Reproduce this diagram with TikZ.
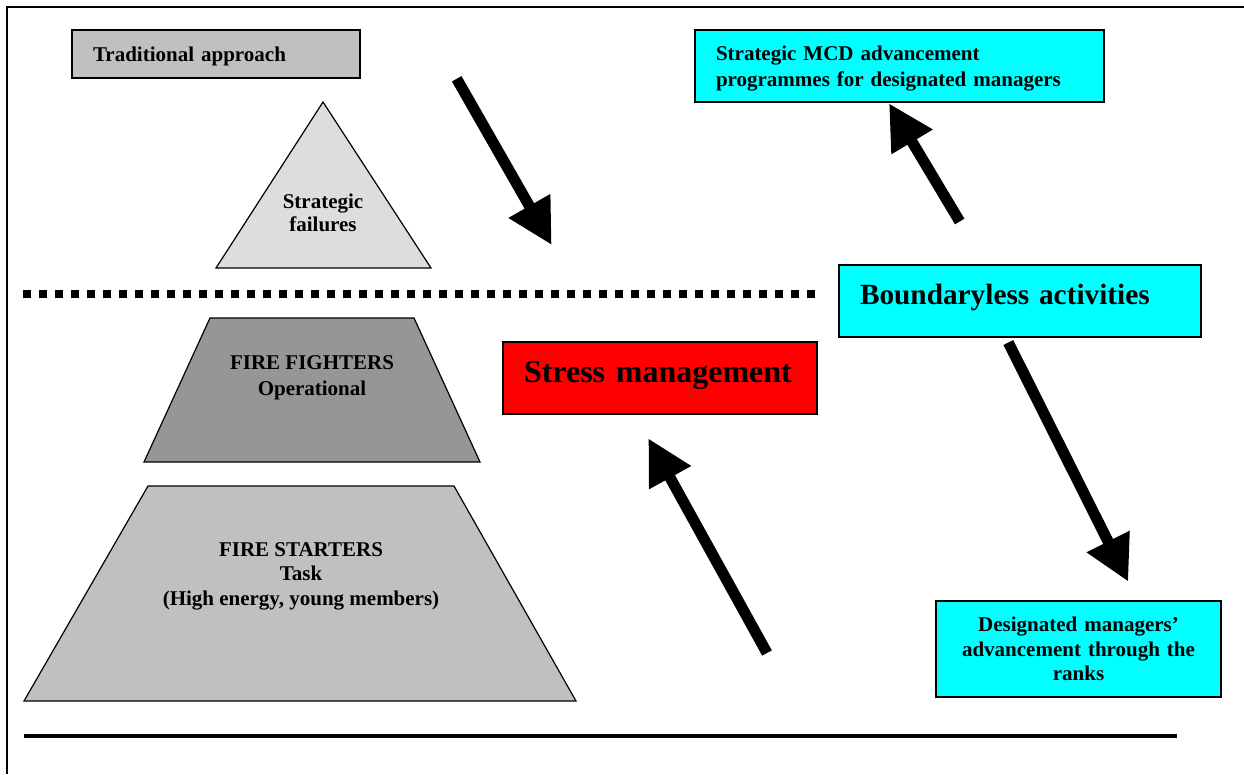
\documentclass[tikz,border=0pt]{standalone}
\usepackage{fontspec}
\setmainfont{Liberation Serif}
\usetikzlibrary{arrows.meta}
\definecolor{midgray}{HTML}{C0C0C0}
\definecolor{lightgray2}{HTML}{DDDDDD}
\definecolor{darkgray2}{HTML}{969696}
\definecolor{cyanbox}{HTML}{00FFFF}
\definecolor{redbox}{HTML}{FF0000}
\tikzset{
  lbl/.style={font=\bfseries\fontsize{21}{24.5}\selectfont, align=center, inner sep=0pt},
  boxcell/.style={draw=black, line width=1.5pt, inner xsep=21pt, inner ysep=0pt, anchor=north west, outer sep=0pt},
  smalltext/.style={font=\bfseries\fontsize{21}{26}\selectfont},
  bigarrow/.style={line width=11pt, -{Triangle[length=45pt,width=45pt]}},
  layer/.style={draw=black, line width=1.2pt, line join=miter},
  framerule/.style={line width=2pt, line join=miter}
}
\begin{document}
\begin{tikzpicture}[x=1pt,y=-1pt]
\useasboundingbox (0,0) rectangle (1244,774);
% frame
\draw[framerule] (7,774) -- (7,7) -- (1244,7);
% left pyramid
\path[layer, fill=lightgray2] (323,102) -- (431,268) -- (216,268) -- cycle;
\node[lbl, font=\bfseries\fontsize{21}{23}\selectfont] (sf) at (323,213) {Strategic\\failures};
\path[layer, fill=darkgray2] (210,318) -- (414,318) -- (480,462) -- (144,462) -- cycle;
\node[lbl, font=\bfseries\fontsize{21}{25.5}\selectfont] (ff) at (312,378) {FIRE FIGHTERS\\Operational};
\path[layer, fill=midgray] (148,486) -- (454,486) -- (576,701) -- (24,701) -- cycle;
\node[lbl] (fs) at (301,576) {FIRE STARTERS\\Task\\(High energy, young members)};
% boxes
\node[boxcell, smalltext, fill=midgray, minimum width=288pt, minimum height=48pt,
      text width=246pt, align=left, text height=31pt, text depth=17pt] (trad) at (72,30) {Traditional approach};
\node[boxcell, smalltext, fill=cyanbox, minimum width=409pt, minimum height=72pt,
      text width=367pt, align=left, text height=30.7pt, text depth=41.3pt] (mcd) at (695,30) {Strategic MCD advancement\\programmes for designated managers};
\node[boxcell, fill=cyanbox, font=\bfseries\fontsize{29.3}{34}\selectfont, minimum width=362pt, minimum height=72pt,
      text width=320pt, align=left, text height=39pt, text depth=33pt] (bound) at (839,265) {Boundaryless activities};
\node[boxcell, fill=redbox, font=\bfseries\fontsize{32}{36}\selectfont, minimum width=314pt, minimum height=72pt,
      text width=272pt, align=left, text height=40.7pt, text depth=31.3pt] (stress) at (503,342) {Stress management};
\node[boxcell, fill=cyanbox, minimum width=285pt, minimum height=96pt,
      text width=243pt, align=center, font=\bfseries\fontsize{21}{24.5}\selectfont] (desig) at (936,601) {Designated managers'\\advancement through the\\ranks};
% dotted boundary
\draw[line width=7.5pt, dash pattern=on 7.5pt off 8.5pt] (23,294) -- (816,294);
% bottom rule
\draw[line width=3.5pt] (24,736) -- (1177,736);
% arrows
\coordinate (a1s) at (456.7,78.8);   \coordinate (a1e) at (551.7,245);
\coordinate (a2s) at (959.7,221.5);  \coordinate (a2e) at (889,103.3);
\coordinate (a3s) at (767,653);      \coordinate (a3e) at (648.3,438.3);
\coordinate (a4s) at (1008.3,342.5); \coordinate (a4e) at (1128.3,581.7);
\draw[bigarrow] (a1s) -- (a1e);
\draw[bigarrow] (a2s) -- (a2e);
\draw[bigarrow] (a3s) -- (a3e);
\draw[bigarrow] (a4s) -- (a4e);
\end{tikzpicture}
\end{document}
